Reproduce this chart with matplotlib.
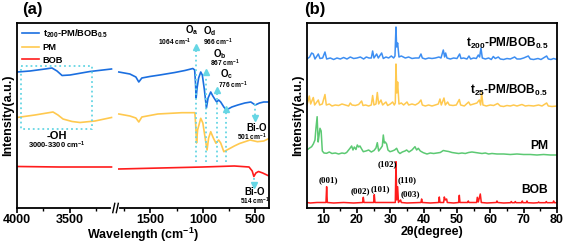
import numpy as np
import matplotlib
matplotlib.use("Agg")
import matplotlib.pyplot as plt
from matplotlib.ticker import FixedLocator, NullLocator

plt.rcParams['font.family'] = ['Liberation Sans', 'DejaVu Sans']
plt.rcParams['font.weight'] = 'bold'
plt.rcParams['axes.labelweight'] = 'bold'
plt.rcParams['mathtext.fontset'] = 'custom'
plt.rcParams['mathtext.rm'] = 'Liberation Sans:bold'
plt.rcParams['mathtext.it'] = 'Liberation Sans:bold'
plt.rcParams['mathtext.bf'] = 'Liberation Sans:bold'
plt.rcParams['mathtext.default'] = 'bf'

# ---------------- FTIR data (panel a) ----------------
# left part of the broken axis (4000-3100 cm-1)
wn_left_t200 = [4000, 3876, 3733, 3667, 3619, 3571, 3495, 3305, 3100]
ir_left_t200 = [136, 137, 139, 140, 137, 132.5, 133, 136.5, 139]
wn_left_pm = [4000, 3829, 3657, 3610, 3562, 3476, 3400, 3257, 3100]
ir_left_pm = [90.5, 93, 96, 93, 89, 86.5, 85.5, 87, 90.5]
wn_left_bob = [4000, 3600, 3100]
ir_left_bob = [41.5, 41, 41]

# right part (1800-370 cm-1)
wn_right_t200 = [1800, 1695, 1638, 1610, 1581, 1505, 1410, 1267, 1171, 1095, 1078,
                 1070, 1064, 1055, 1040, 1020, 1005, 985, 966, 950, 925, 905, 875,
                 867, 850, 830, 800, 776, 724, 667, 600, 543, 501, 460, 420, 380]
ir_right_t200 = [136, 134, 131, 126, 130, 131.5, 133, 135.5, 137.5, 139.5, 138,
                 125, 110, 120, 130, 136, 133, 118, 100, 110, 116, 112, 107,
                 106, 108, 106, 101, 98, 101, 103, 105, 106, 103, 105, 106, 106]
wn_right_pm = [1800, 1695, 1638, 1610, 1581, 1429, 1200, 1076, 1068, 1060, 1050,
               1020, 1000, 975, 960, 945, 925, 900, 875, 850, 830, 800, 770, 700,
               650, 550, 480, 420, 380]
ir_right_pm = [94, 92, 90, 86, 91, 94, 95.3, 95.3, 83, 65, 78,
               89.7, 85, 68, 58, 70, 76.3, 70, 64.7, 68, 65, 56.3, 58, 62,
               64.5, 68, 66.3, 67, 69]
wn_right_bob = [1800, 1400, 1000, 700, 560, 530, 514, 495, 470, 430, 380]
ir_right_bob = [39, 40, 41, 42, 41, 37, 31.5, 35, 36.5, 35, 32.5]

# marked bands
band_wn = [1064, 966, 867, 776]
band_top = [163, 138, 120, 101]
band_names = ['O$_a$', 'O$_d$', 'O$_b$', 'O$_c$']
band_labels = ['1064 cm$^{-1}$', '966 cm$^{-1}$', '867 cm$^{-1}$', '776 cm$^{-1}$']

# ---------------- XRD data (panel b) ----------------
tt_t200 = [5.0, 5.8, 6.4, 6.9, 7.4, 8.4, 8.9, 9.7, 10.4, 10.9, 12, 13, 14, 15, 16, 17, 18, 19,
           20, 21, 22, 22.8, 23.6, 24.3, 24.7, 25.1, 25.9, 26.4, 27.4, 27.9, 28.7, 29.5, 30.3,
           31.0, 31.4, 31.7, 31.9, 32.2, 32.6, 33.3, 34.5, 35.5, 36.5, 37.5, 38.6, 39.2, 39.6,
           40.5, 41.5, 42.5, 43.5, 44.6, 45.2, 45.9, 46.3, 46.6, 47, 48, 49, 50, 50.8, 51.2,
           52, 53, 53.6, 54.1, 55, 55.8, 56.4, 56.8, 57.2, 57.6, 58.5, 59.5, 60.3, 60.9, 61.5,
           62.4, 63, 64, 65, 66, 67.3, 68, 69, 70, 71.4, 72, 73, 74.3, 75.2, 76.9, 77.4, 78.2,
           79, 80]
xrd_t200 = [149, 151, 155, 154, 149, 154, 149.5, 150, 156, 149, 150, 148.5, 150, 149, 150.5,
            149, 151, 149.5, 150, 151, 149, 151, 150, 150, 157, 150, 154, 150, 155, 149.5, 151,
            150, 152, 150, 152, 181, 161, 165, 151, 152, 150, 151, 149.5, 150, 150, 154, 150,
            149, 150, 149.5, 150, 151, 150, 158, 151, 155, 150, 149, 150, 149.5, 154, 149.5,
            150, 149, 152, 149, 150, 149.5, 153, 151, 160, 150, 149, 150, 148.5, 151.5, 149.5,
            151, 149, 148.5, 149.5, 149, 151, 149, 149, 150, 152, 149, 148.5, 149.5, 148.5, 152,
            149, 148.5, 149.5, 148.5]

tt_t25 = [5.0, 5.7, 6.1, 6.9, 7.3, 8.4, 8.8, 9.6, 10.4, 10.8, 11.7, 12.5, 13.5, 14.5, 15.5,
          16.5, 17.5, 18, 18.5, 19.5, 20.5, 21.4, 21.8, 22.6, 23.5, 24.3, 24.7, 25.1, 25.7,
          26.1, 26.5, 27.2, 27.7, 28.7, 29.2, 30, 30.7, 31.2, 31.5, 31.7, 31.95, 32.2, 32.6,
          33.3, 34, 35, 35.5, 36.5, 37.5, 38.5, 39.2, 39.6, 40.5, 41.5, 42.5, 43.5, 44.4, 44.9,
          45.3, 46.1, 46.5, 47.2, 47.7, 48.8, 49.8, 50.7, 51.1, 52.2, 53.5, 54, 55, 56, 56.7,
          57.1, 57.4, 57.8, 58.8, 60, 61, 62.2, 63, 64, 65, 66, 67, 68, 69.5, 70.5, 71.5, 73,
          74.5, 75.5, 76.9, 77.4, 78.5, 80]
xrd_t25 = [103, 112, 104, 110.5, 103, 108, 103, 104, 113.5, 103, 104, 102, 103, 102.5, 104,
           103, 102, 105, 103, 102.5, 103.5, 107, 102.5, 103, 102, 103, 112.5, 103, 104,
           115.5, 104, 108, 103, 106, 102.5, 104, 106, 103, 105, 144, 115, 126, 104,
           105, 103, 106, 103, 104, 103, 105, 108, 103, 102, 103, 102, 103, 104, 109,
           103, 110, 103, 106, 103, 102.5, 103, 108.5, 103, 102, 106, 103, 104, 105, 108,
           103, 115, 103, 102, 103, 102.5, 104.5, 102, 101.5, 102.5, 102, 103, 102, 103.5, 102,
           102.5, 102, 103, 102, 105, 102, 101.5, 102]

tt_pm = [5.0, 5.8, 6.4, 6.9, 7.4, 7.7, 8.05, 8.35, 8.6, 8.9, 9.25, 9.6, 10.1, 10.9, 11.7, 12.5,
         13.5, 14.5, 15.5, 16.3, 16.9, 17.9, 18.4, 18.8, 19.2, 19.7, 20.1, 20.5, 20.9, 21.4,
         21.9, 22.7, 23.5, 24.3, 25.1, 25.7, 26.1, 26.5, 27.2, 27.6, 27.9, 28.2, 28.5, 28.9,
         29.3, 29.9, 30.6, 31.3, 31.9, 32.4, 32.9, 33.6, 34.4, 34.9, 35.6, 36.5, 37.4, 37.9,
         38.4, 39.0, 39.9, 41, 42, 43, 44, 45, 45.9, 46.6, 47.5, 48.5, 49.5, 50.5, 51.5, 52.5,
         53.5, 54.5, 55.5, 56.5, 57.5, 58.5, 59.5, 60.5, 62, 64, 66, 68, 70, 72, 74, 76, 78, 80]
xrd_pm = [58, 60, 61.3, 64, 68, 80, 91.3, 66, 72, 79.7, 77, 57, 55, 54.7, 56, 54.5,
          55, 54, 55, 54.5, 55.5, 59.7, 62, 58, 61, 58.5, 63, 61, 62, 59,
          56.3, 57, 58, 56, 57.5, 60, 65.3, 57, 60, 62, 73, 65, 66, 64,
          58, 56.3, 57, 58, 59.7, 56, 54.5, 56, 57, 58, 56, 58, 61.3, 58,
          59.7, 57, 55.3, 54, 55, 54.5, 55, 55.5, 57.5, 57, 56.5, 55.5, 55, 54.5, 55, 54.5,
          55.5, 56, 55.5, 55, 54.5, 55, 54, 54.5, 54, 54, 53.5, 54, 53.5, 53.5, 53, 53.5, 53, 53]

tt_bob = [5.0, 6, 8, 10, 10.7, 10.9, 11.1, 13, 16, 19, 21.7, 21.9, 22.1, 25.0, 25.2, 25.4, 28,
          31.5, 31.7, 31.95, 32.2, 32.45, 32.9, 33.1, 33.3, 35, 39.2, 39.4, 39.6, 42, 44.5,
          44.7, 44.9, 46.0, 46.2, 46.5, 46.9, 47.1, 49, 50.5, 50.7, 50.9, 53.2, 53.4, 53.6,
          55.9, 56.1, 56.4, 57.0, 57.3, 59, 61.8, 62.0, 62.2, 64, 66.1, 66.3, 66.5, 67.3, 67.5,
          67.7, 69.4, 69.6, 69.8, 70.8, 71, 71.2, 73, 74.3, 74.5, 74.7, 76.6, 76.8, 77, 78.8,
          79, 79.2, 80]
xrd_bob = [5.5, 5, 5.5, 5.5, 5.5, 21.3, 5.5, 5, 5.5, 5, 5.5, 10.7, 5.5, 5.5, 13.3, 5.5, 5.5,
           5.5, 46.3, 8, 21.3, 5.5, 7.5, 8, 5.5, 5, 5.5, 9, 5.5, 5, 5.5,
           11, 5.5, 5.5, 11, 8, 9, 5.5, 5, 5.5, 12.7, 5.5, 5.5, 7, 5.5,
           5.5, 10.7, 6, 14, 5.5, 5, 5.5, 7, 5.5, 5, 5.3, 6.5, 5.3, 5.3, 6.5,
           5.3, 5.3, 7, 5.3, 5.3, 7, 5.3, 5, 5.3, 6, 5.3, 5.3, 6.5, 5.3, 5.3,
           7, 5.3, 5.3]

hkl_labels = ['(001)', '(002)', '(101)', '(102)', '(110)', '(003)']
hkl_pos = [(11.4, 28), (20.9, 17), (26.9, 19), (29.1, 43.7), (34.9, 28), (35.9, 14)]

c_blue = '#1b6fe0'
c_blue2 = '#3d8ef2'
c_yel = '#ffc94f'
c_red = '#ff1c1c'
c_green = '#5cc973'
c_cyan = '#66d6e4'

fig = plt.figure(figsize=(5.67, 2.46), dpi=100)
ax1 = fig.add_axes([0.030, 0.1545, 0.4444, 0.752])
ax2 = fig.add_axes([0.5414, 0.1545, 0.4409, 0.752])


# broken wavenumber axis: 4000-3100 | gap | 1800-370 (increasing in x)
def fwd(x):
    x = np.asarray(x, dtype=float)
    return np.where(x >= 2450, x - 4000, -970 - (1800 - x))


def inv(p):
    p = np.asarray(p, dtype=float)
    return np.where(p >= -935, p + 4000, 1800 + (p + 970))


ax1.set_xscale('function', functions=(fwd, inv))

lw = 1.2
ax1.plot(wn_left_t200, ir_left_t200, color=c_blue, lw=lw, label='t$_{200}$-PM/BOB$_{0.5}$')
ax1.plot(wn_right_t200, ir_right_t200, color=c_blue, lw=lw)
ax1.plot(wn_left_pm, ir_left_pm, color=c_yel, lw=lw, label='PM')
ax1.plot(wn_right_pm, ir_right_pm, color=c_yel, lw=lw)
ax1.plot(wn_left_bob, ir_left_bob, color=c_red, lw=lw, label='BOB')
ax1.plot(wn_right_bob, ir_right_bob, color=c_red, lw=lw)

# -OH box
ax1.plot([3965, 3290, 3290, 3965, 3965], [142, 142, 79, 79, 142], ls=':', color=c_cyan, lw=1.3)
ax1.text(3622, 72, '-OH', ha='center', va='center', fontsize=8)
ax1.text(3622, 63, '3000-3300 cm$^{-1}$', ha='center', va='center', fontsize=5.5)

# band markers
for w, t in zip(band_wn, band_top):
    ax1.plot([w, w], [46, t - 4], ls=':', color=c_cyan, lw=1.3)
    ax1.plot(w, t - 2, marker='^', ms=5, color=c_cyan, mec=c_cyan)
name_pos = [(1102, 178), (933, 177), (838, 154), (774, 134)]
lab_pos = [(1267, 166), (854, 166), (790, 145), (711, 123)]
for n, (x, y) in zip(band_names, name_pos):
    ax1.text(x, y, n, ha='center', va='center', fontsize=7)
for s, (x, y) in zip(band_labels, lab_pos):
    ax1.text(x, y, s, ha='center', va='center', fontsize=4.8)

# Bi-O markers
ax1.plot([501, 501], [104, 92], ls=':', color=c_cyan, lw=1.3)
ax1.plot(501, 90, marker='v', ms=5, color=c_cyan, mec=c_cyan)
ax1.text(489, 80, 'Bi-O', ha='center', va='center', fontsize=7)
ax1.text(536, 71, '501 cm$^{-1}$', ha='center', va='center', fontsize=4.8)
ax1.plot([514, 514], [30, 24], ls=':', color=c_cyan, lw=1.3)
ax1.plot(514, 22.5, marker='v', ms=5, color=c_cyan, mec=c_cyan)
ax1.text(505, 16, 'Bi-O', ha='center', va='center', fontsize=7)
ax1.text(505, 7, '514 cm$^{-1}$', ha='center', va='center', fontsize=4.8)

ax1.set_xlim(4000, 370)
ax1.set_ylim(0, 185)
ax1.xaxis.set_major_locator(FixedLocator([4000, 3500, 1500, 1000, 500]))
ax1.xaxis.set_minor_locator(FixedLocator([3750, 3250, 1750, 1250, 750]))
ax1.yaxis.set_major_locator(NullLocator())
ax1.set_xlabel('Wavelength (cm$^{-1}$)', fontsize=9, labelpad=0)
ax1.set_ylabel('Intensity(a.u.)', fontsize=9, labelpad=2)
ax1.legend(loc='upper left', frameon=False, fontsize=6.7, handlelength=1.9,
           handletextpad=0.35, labelspacing=0.35, borderaxespad=0.3, borderpad=0.2)

# break marks on bottom spine
ax1.plot([0.382, 0.397], [0, 0], transform=ax1.transAxes, color='white', lw=3,
         clip_on=False, zorder=5)
for xb in [0.380, 0.394]:
    ax1.plot([xb, xb + 0.008], [-0.025, 0.025], transform=ax1.transAxes, color='black',
             lw=1, clip_on=False, zorder=6)

ax1.text(0.02, 1.075, '(a)', transform=ax1.transAxes, fontsize=12, ha='left', va='center')

# ---------------- panel b ----------------
ax2.plot(tt_t200, xrd_t200, color=c_blue2, lw=1.1)
ax2.plot(tt_t25, xrd_t25, color=c_yel, lw=1.1)
ax2.plot(tt_pm, xrd_pm, color=c_green, lw=1.1)
ax2.plot(tt_bob, xrd_bob, color=c_red, lw=1.1)

ax2.text(77.3, 164.7, 't$_{200}$-PM/BOB$_{0.5}$', ha='right', va='center', fontsize=8.5)
ax2.text(77.3, 118, 't$_{25}$-PM/BOB$_{0.5}$', ha='right', va='center', fontsize=8.5)
ax2.text(77.3, 62, 'PM', ha='right', va='center', fontsize=8.7)
ax2.text(77.3, 18, 'BOB', ha='right', va='center', fontsize=8.7)
for s, (x, y) in zip(hkl_labels, hkl_pos):
    ax2.text(x, y, s, ha='center', va='center', fontsize=6.5,
             family=['Liberation Serif'], weight='bold')

ax2.set_xlim(5, 80)
ax2.set_ylim(0, 185)
ax2.xaxis.set_major_locator(FixedLocator(np.arange(10, 81, 10)))
ax2.xaxis.set_minor_locator(FixedLocator(np.arange(15, 80, 10)))
ax2.yaxis.set_major_locator(NullLocator())
ax2.set_xlabel('2θ(degree)', fontsize=9, labelpad=0)
ax2.set_ylabel('Intensity(a.u.)', fontsize=9, labelpad=2)
ax2.text(-0.01, 1.075, '(b)', transform=ax2.transAxes, fontsize=12, ha='left', va='center')

for ax in (ax1, ax2):
    for sp in ax.spines.values():
        sp.set_linewidth(1.3)
    ax.tick_params(axis='x', which='major', direction='out', length=3.5, width=1.2,
                   labelsize=9, pad=1)
    ax.tick_params(axis='x', which='minor', direction='out', length=2, width=1)

fig.savefig('out.png', dpi=100)
